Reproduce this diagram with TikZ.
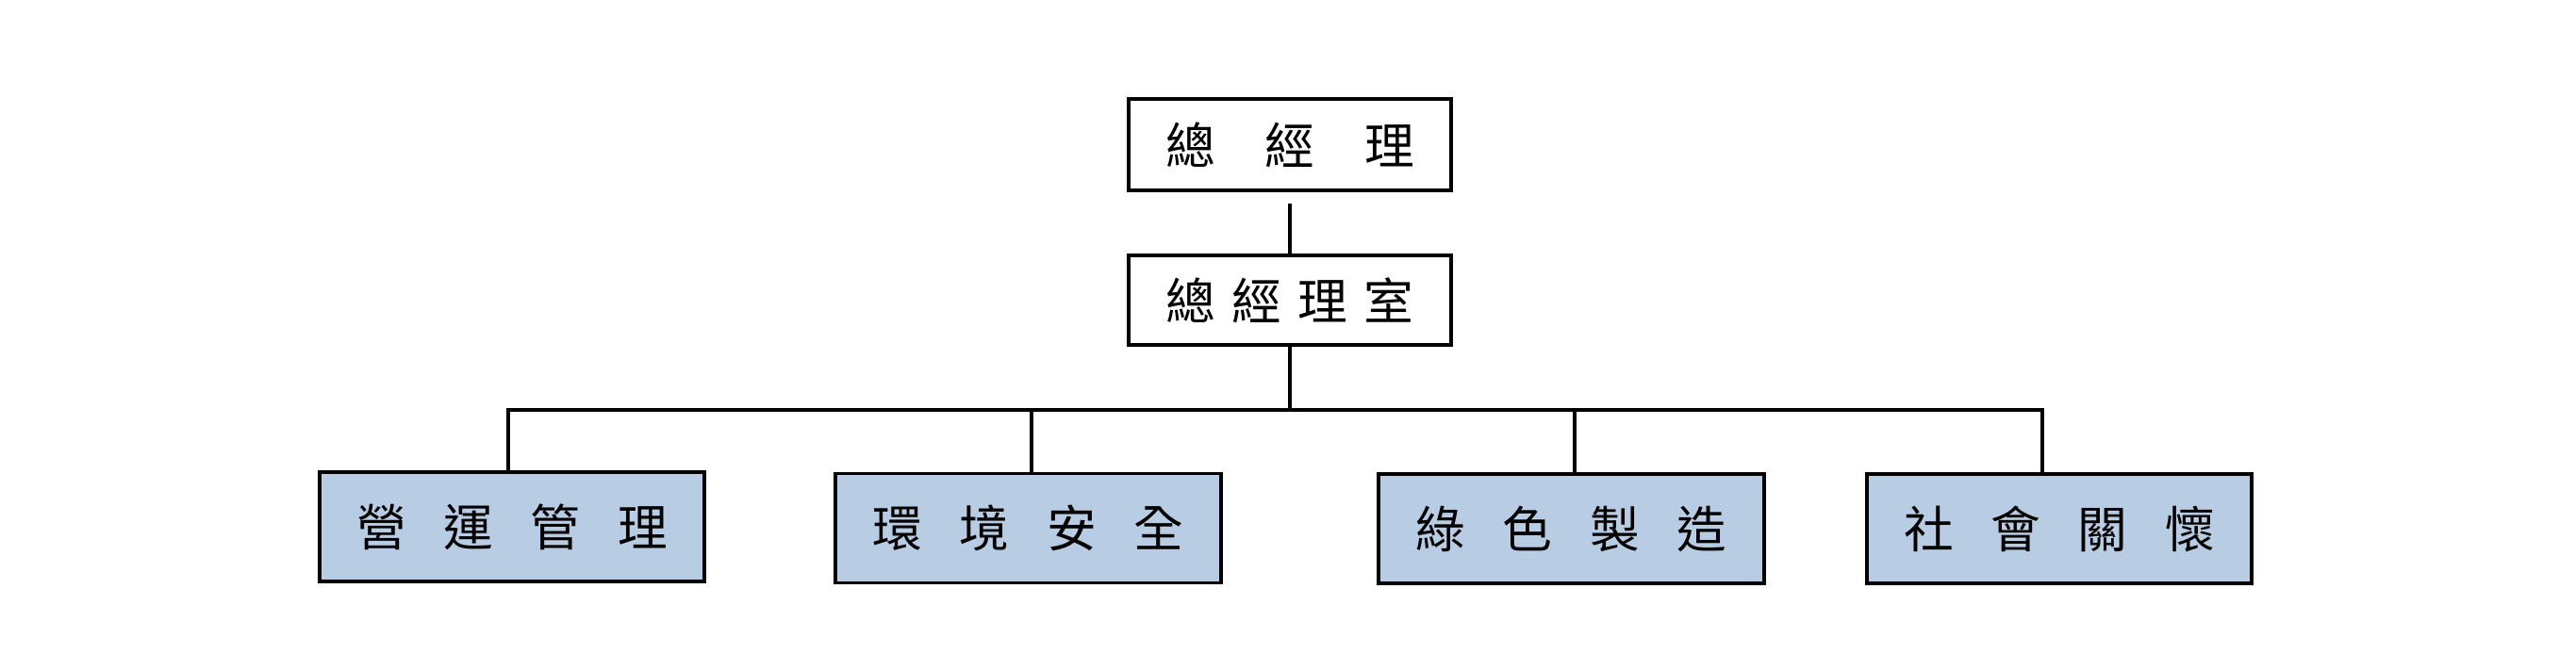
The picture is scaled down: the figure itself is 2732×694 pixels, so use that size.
\documentclass[tikz,border=0pt]{standalone}
\usepackage{fontspec}
\usepackage{tikz}
\usetikzlibrary{arrows}
\newfontfamily\cjk{Noto Sans CJK TC}
\definecolor{bycceu}{rgb}{0.72,0.8,0.89}
\newcommand\kgap{\hspace{0.75em}}

\begin{document}
\begin{tikzpicture}[line cap=rect,line join=miter,line width=0.9pt,x=0.01cm,y=-0.01cm,
  box/.style={draw,line width=1.1pt,inner sep=0pt,minimum width=3.42cm,minimum height=0.97cm,font=\cjk\fontsize{15}{18}\selectfont},
  unit/.style={box,fill=bycceu,minimum width=4.08cm,minimum height=1.16cm}]
      \useasboundingbox (0,0) rectangle (2732,694);
      \node[box] (gm) at (1368,153.5) {總\hspace{1em}經\hspace{1em}理};
      \node[box,minimum height=0.95cm] (gmo) at (1368,318.5) {總\hspace{.33em}經\hspace{.33em}理\hspace{.33em}室};
      \coordinate (t1) at (539,435);
      \coordinate (t2) at (1094,435);
      \coordinate (t3) at (1670,435);
      \coordinate (t4) at (2166,435);
      \node[unit] (ops) at (543,559) {營\kgap 運\kgap 管\kgap 理};
      \node[unit] (env) at (1090.5,560.5) {環\kgap 境\kgap 安\kgap 全};
      \node[unit] (grn) at (1666.5,561) {綠\kgap 色\kgap 製\kgap 造};
      \node[unit] (soc) at (2184,561) {社\kgap 會\kgap 關\kgap 懷};
      \draw[shorten <=0.14cm] (gm) -- (gmo);
      \draw (gmo) -- (gmo.south |- t1);
      \draw (ops.north -| t1) -- (t1) -- (t4) -- (soc.north -| t4);
      \draw (t2) -- (env.north -| t2);
      \draw (t3) -- (grn.north -| t3);
\end{tikzpicture}
\end{document}
